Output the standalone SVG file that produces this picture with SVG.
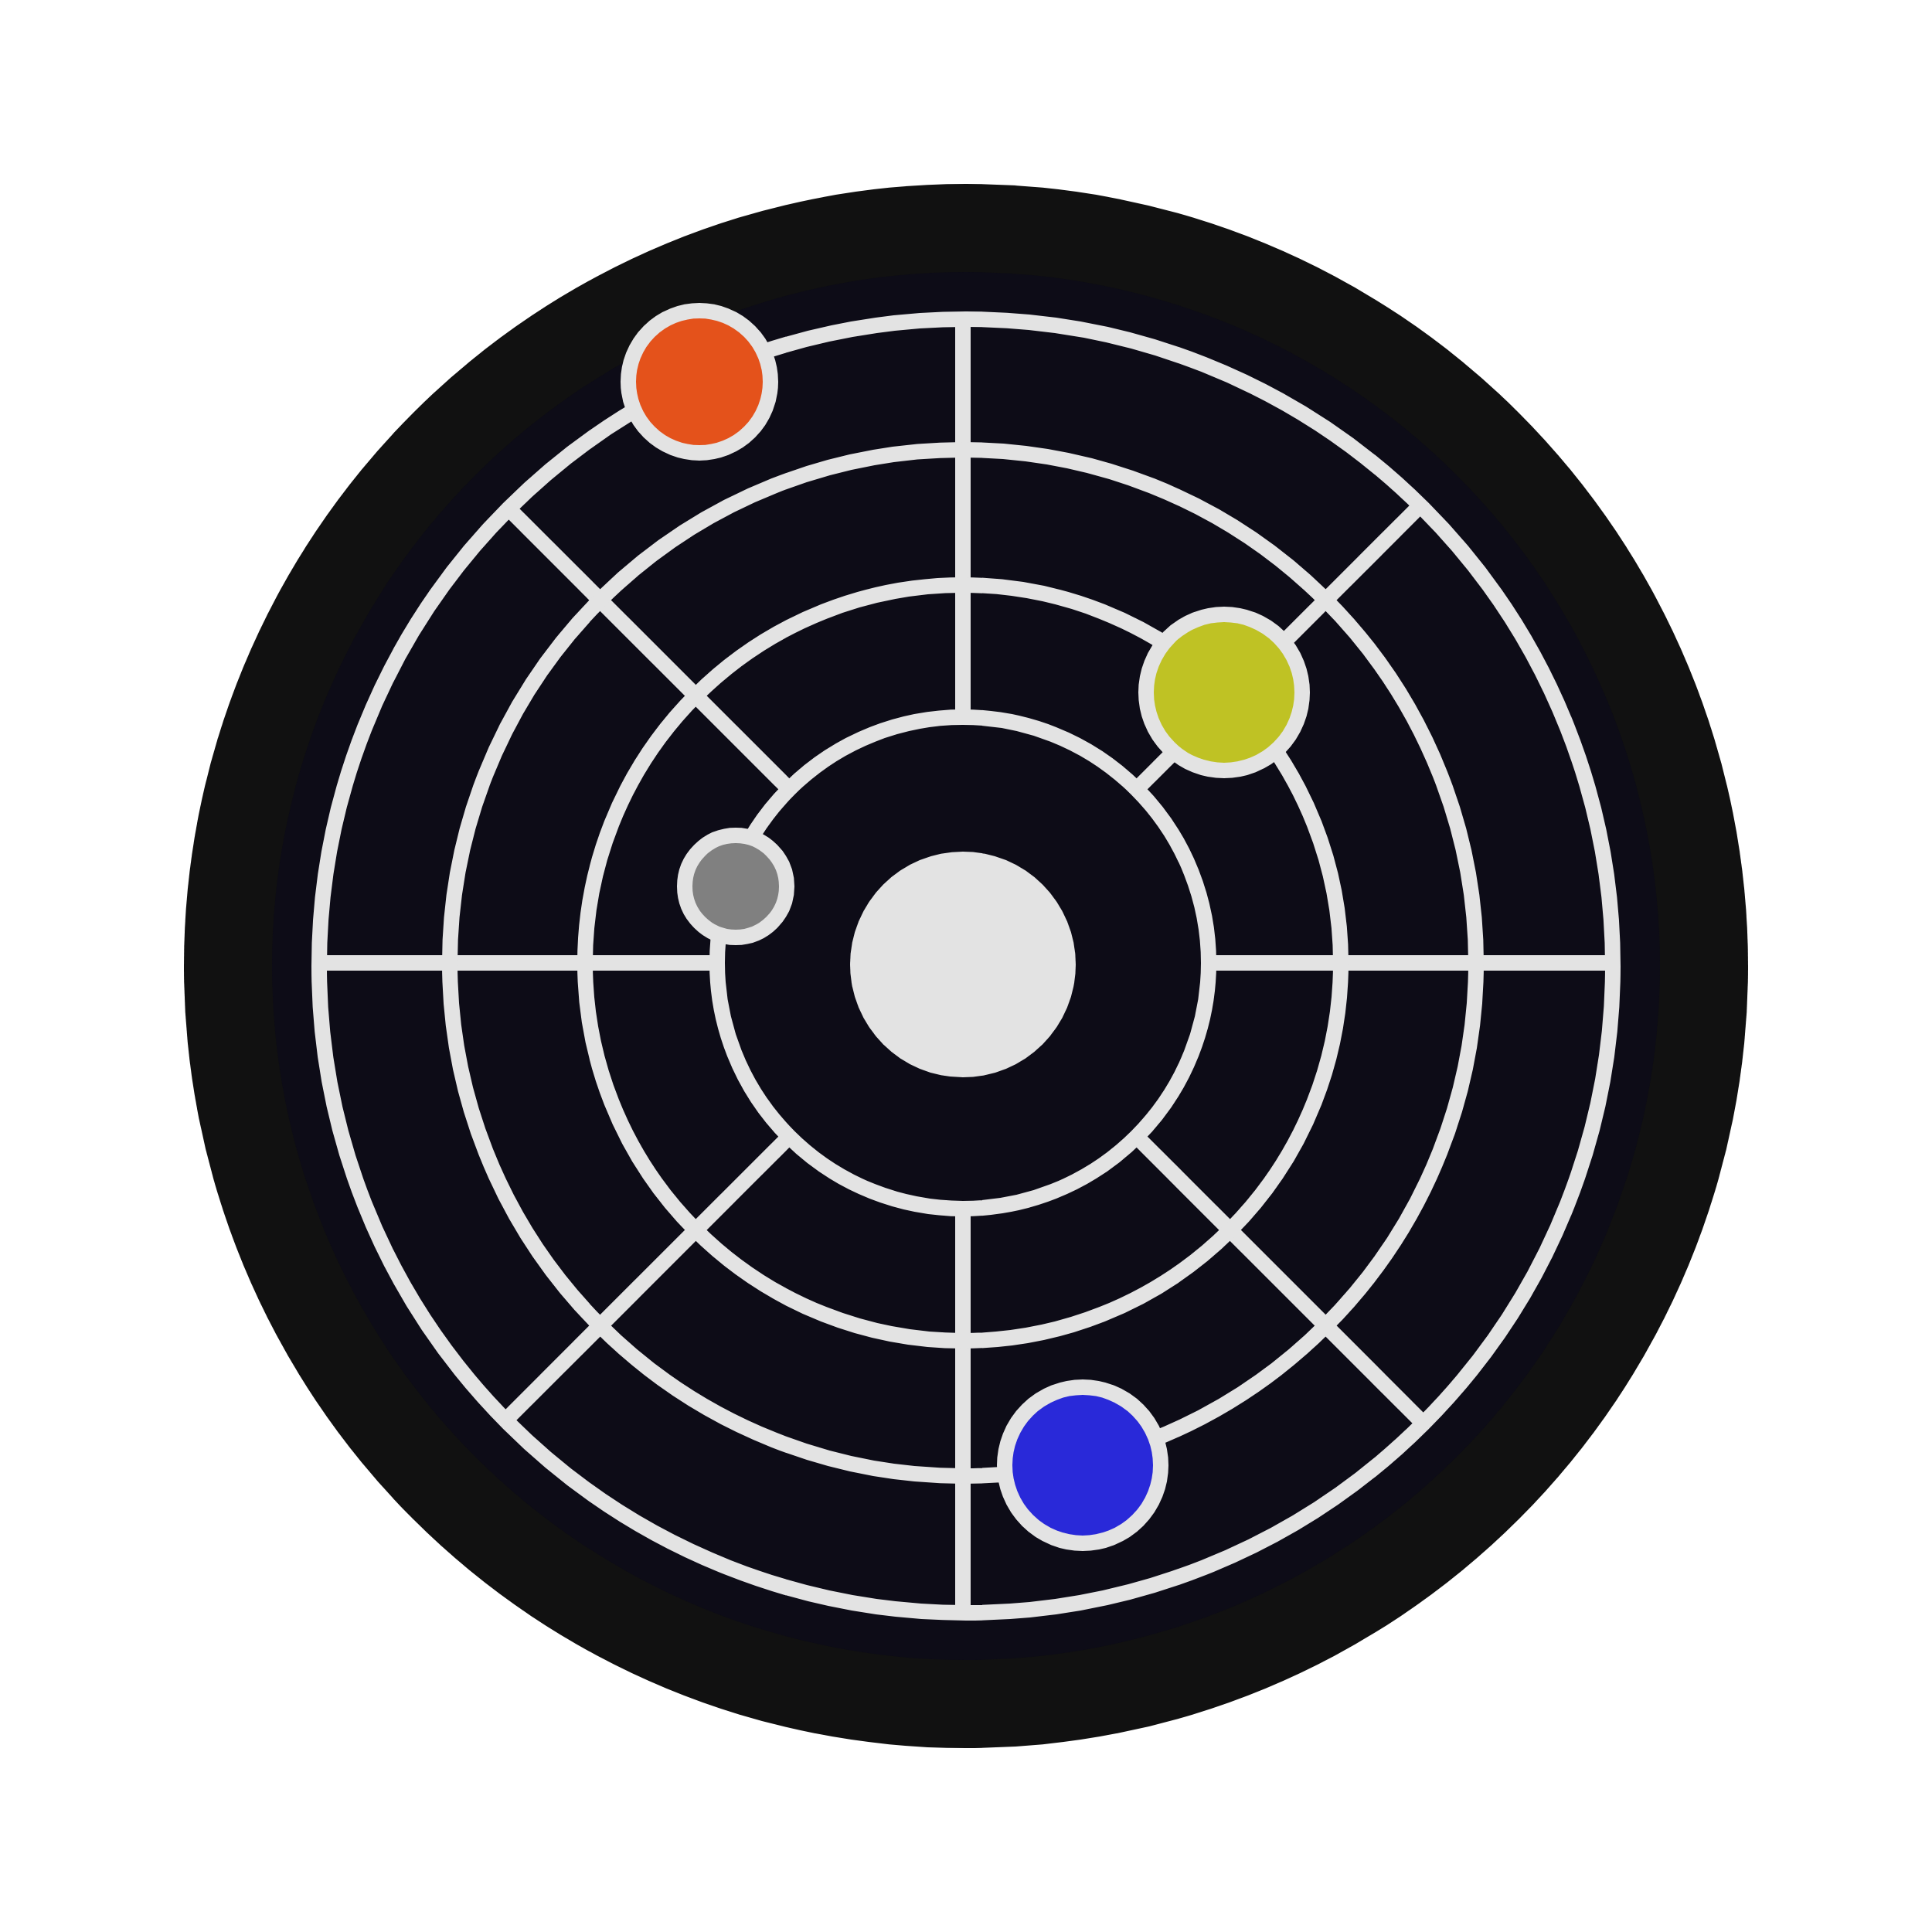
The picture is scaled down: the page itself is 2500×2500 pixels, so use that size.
<svg xmlns="http://www.w3.org/2000/svg" width="2500" height="2500" viewBox="0 0 2500 2500">
<style>
.orbit{fill:none;stroke:#e3e3e3;stroke-width:20}
.spoke{stroke:#e3e3e3;stroke-width:20;stroke-linecap:butt}
.planet{stroke:#e3e3e3;stroke-width:20}
</style>
<rect width="2500" height="2500" fill="#ffffff"/>
<g id="background">
<circle cx="1250" cy="1250" r="1012" fill="#111111"/>
<circle cx="1250" cy="1250" r="898" fill="#0d0c17"/>
</g>
<g id="connectors">
<line class="spoke" x1="1246" y1="928" x2="1246" y2="413"/>
<line class="spoke" x1="1246" y1="1564" x2="1246" y2="2087"/>
<line class="spoke" x1="928" y1="1246" x2="413" y2="1246"/>
<line class="spoke" x1="1564" y1="1246" x2="2087" y2="1246"/>
<line class="spoke" x1="1021" y1="1021" x2="657" y2="657"/>
<line class="spoke" x1="1471" y1="1021" x2="1838" y2="654"/>
<line class="spoke" x1="1021" y1="1471" x2="654" y2="1838"/>
<line class="spoke" x1="1471" y1="1471" x2="1843" y2="1843"/>
</g>
<g id="orbits">
<circle class="orbit" cx="1250" cy="1250" r="837"/>
<circle class="orbit" cx="1246" cy="1246" r="664"/>
<circle class="orbit" cx="1246" cy="1246" r="489"/>
<circle class="orbit" cx="1246" cy="1246" r="318"/>
</g>
<g id="sun"><circle cx="1246" cy="1248" r="146" fill="#e3e3e3"/></g>
<g id="planet-orange"><circle class="planet" cx="905" cy="494" r="92" fill="#e4521b"/></g>
<g id="planet-yellow"><circle class="planet" cx="1584" cy="896" r="101" fill="#bfc224"/></g>
<g id="planet-gray"><circle class="planet" cx="952" cy="1147" r="66" fill="#808080"/></g>
<g id="planet-blue"><circle class="planet" cx="1401" cy="1896" r="101" fill="#2929d9"/></g>
</svg>
